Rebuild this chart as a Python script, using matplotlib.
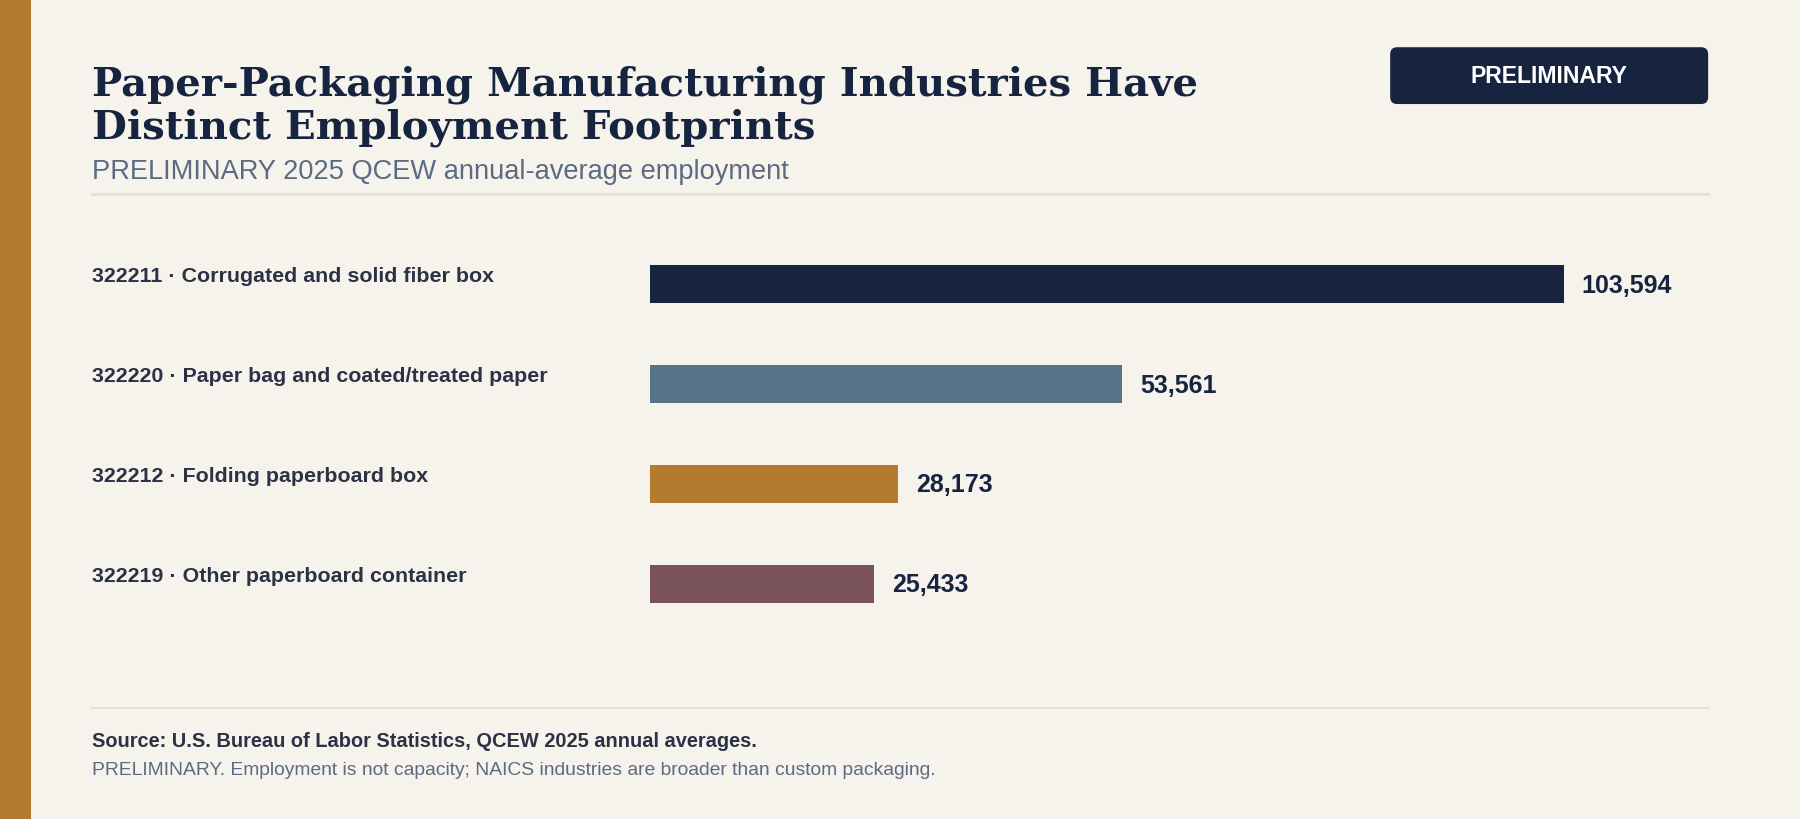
import matplotlib
matplotlib.use("Agg")
import matplotlib.pyplot as plt
from matplotlib import font_manager
from matplotlib.patches import Rectangle, FancyBboxPatch
from matplotlib.transforms import blended_transform_factory

# data
codes = ["322211", "322220", "322212", "322219"]
industries = ["Corrugated and solid fiber box", "Paper bag and coated/treated paper",
              "Folding paperboard box", "Other paperboard container"]
employment = [103594, 53561, 28173, 25433]
bar_colors = ["#172440", "#57738c", "#b37a30", "#7a5259"]

title_lines = ["Paper-Packaging Manufacturing Industries Have",
               "Distinct Employment Footprints"]
subtitle = "PRELIMINARY 2025 QCEW annual-average employment"
source = "Source: U.S. Bureau of Labor Statistics, QCEW 2025 annual averages."
note = "PRELIMINARY. Employment is not capacity; NAICS industries are broader than custom packaging."

BG = "#f6f3ec"
NAVY = "#172440"
GREY = "#5c6b82"
LABEL = "#2b3245"
RULE = "#e5e1d8"

# layout was measured on a 1568x714 view of the target
W, H = 1568.0, 714.0

def fx(x):
    return x / W

def fy(y):
    return 1 - y / H

names = {f.name for f in font_manager.fontManager.ttflist}
SERIF = "DejaVu Serif Condensed" if "DejaVu Serif Condensed" in names else "DejaVu Serif"

fig = plt.figure(figsize=(18, 8.2), dpi=100, facecolor=BG)

# left accent stripe
fig.patches.append(Rectangle((0, 0), fx(27), 1, transform=fig.transFigure,
                             facecolor="#b37a30", edgecolor="none"))

# title block, one text per line so the baselines can be placed
title_texts = []
for line, base in zip(title_lines, [83, 121]):
    title_texts.append(fig.text(fx(80), fy(base), line, ha="left", va="baseline",
                                family=SERIF, fontweight="bold", fontsize=30,
                                color=NAVY))
fig.text(fx(80), fy(150), subtitle, ha="left", va="center", family="Liberation Sans",
         fontsize=19.6, color=GREY)
fig.add_artist(plt.Line2D([fx(80), fx(1488)], [fy(170), fy(170)], color=RULE, lw=2.2,
                          transform=fig.transFigure))

# badge
S = 1800 / W / 100.0  # displayed px -> inches
fig.patches.append(FancyBboxPatch((1211 * S, 8.2 - 91.5 * S), 277 * S, 49.5 * S,
                                  boxstyle="round,pad=0,rounding_size=0.07",
                                  transform=fig.dpi_scale_trans,
                                  facecolor=NAVY, edgecolor="none"))
fig.text(fx(1349.5), fy(67), "PRELIMINARY", ha="center", va="center",
         family="Liberation Sans", fontweight="bold", fontsize=16.6, color="white")

# bars
top, step = 204.5, 87.0
ax = fig.add_axes([fx(566), fy(top + 4 * step), fx(1488) - fx(566), 4 * step / H])
ax.set_facecolor("none")
ypos = list(range(len(employment)))
ax.barh(ypos, employment, height=33 / step, color=bar_colors, edgecolor="none",
        linewidth=0)
ax.set_xlim(0, 103594 * 922 / 796)
ax.set_ylim(len(employment) - 0.5, -0.5)
ax.axis("off")

for i, v in enumerate(employment):
    ax.annotate(f"{v:,}", xy=(v, i), xytext=(13, -0.6), textcoords="offset points",
                ha="left", va="center", family="Liberation Sans", fontweight="bold",
                fontsize=18, color=NAVY)

lab_tr = blended_transform_factory(fig.transFigure, ax.transData)
for i, (c, name) in enumerate(zip(codes, industries)):
    ax.text(fx(80), i - 7 / step, f"{c} \u00b7 {name}", transform=lab_tr, ha="left",
            va="center", family="Liberation Sans", fontweight="bold", fontsize=15.4,
            color=LABEL)

# footer
fig.add_artist(plt.Line2D([fx(80), fx(1488)], [fy(617), fy(617)], color=RULE, lw=1.5,
                          transform=fig.transFigure))
fig.text(fx(80), fy(645.5), source, ha="left", va="center", family="Liberation Sans",
         fontweight="bold", fontsize=14.4, color=LABEL)
fig.text(fx(80), fy(670.5), note, ha="left", va="center", family="Liberation Sans",
         fontsize=13.9, color=GREY)

# fit title width to the target
fig.canvas.draw()
r = fig.canvas.get_renderer()
wpx = title_texts[0].get_window_extent(r).width
target = (1045 - 80) * 1800 / W
for tt in title_texts:
    tt.set_fontsize(30 * target / wpx)

fig.savefig("out.png", dpi=100, facecolor=BG)
